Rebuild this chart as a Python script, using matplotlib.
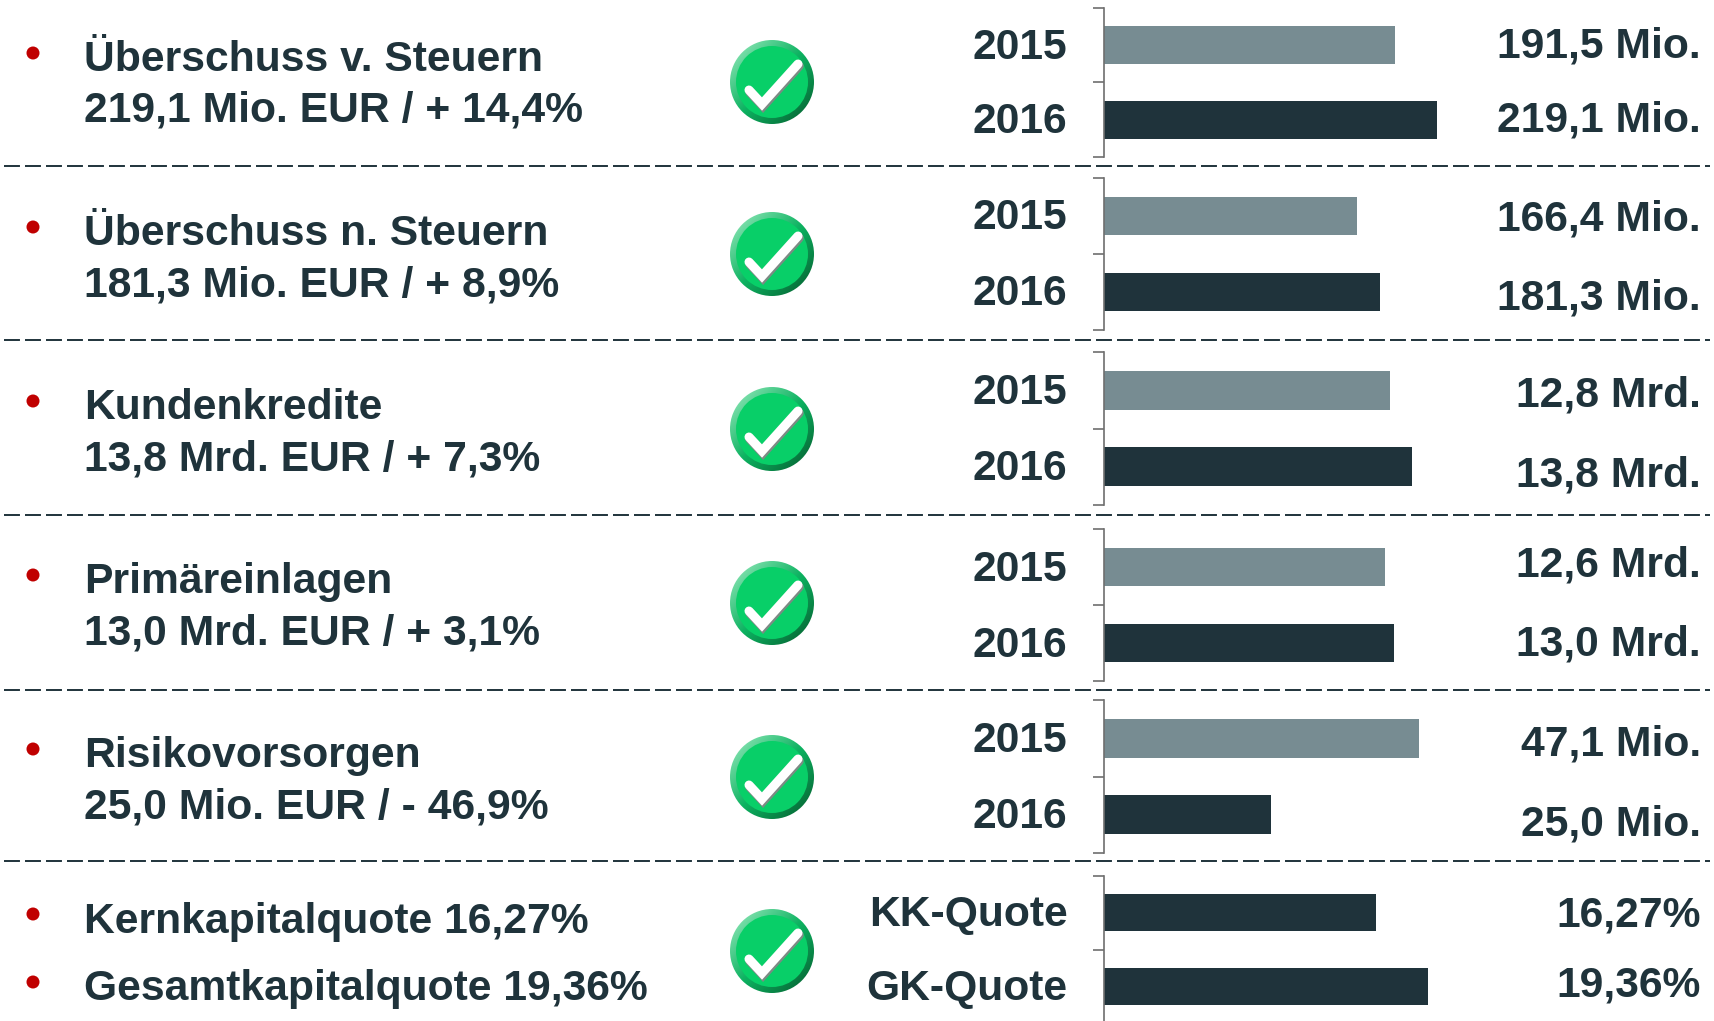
import numpy as np
import matplotlib
matplotlib.use('Agg')
import matplotlib.pyplot as plt
from matplotlib.patches import Circle
from matplotlib.transforms import ScaledTranslation

# chart data
titles = ['Überschuss v. Steuern', 'Überschuss n. Steuern', 'Kundenkredite', 'Primäreinlagen', 'Risikovorsorgen']
subtitles = ['219,1 Mio. EUR / + 14,4%', '181,3 Mio. EUR / + 8,9%', '13,8 Mrd. EUR / + 7,3%',
             '13,0 Mrd. EUR / + 3,1%', '25,0 Mio. EUR / - 46,9%']
quotes = ['Kernkapitalquote 16,27%', 'Gesamtkapitalquote 19,36%']
years = ['2015', '2016']
quote_names = ['KK-Quote', 'GK-Quote']
values_2015 = [191.5, 166.4, 12.8, 12.6, 47.1]
values_2016 = [219.1, 181.3, 13.8, 13.0, 25.0]
values_quote = [16.27, 19.36]
labels_2015 = ['191,5 Mio.', '166,4 Mio.', '12,8 Mrd.', '12,6 Mrd.', '47,1 Mio.']
labels_2016 = ['219,1 Mio.', '181,3 Mio.', '13,8 Mrd.', '13,0 Mrd.', '25,0 Mio.']
labels_quote = ['16,27%', '19,36%']

# layout in pixels of the 1715x1021 picture
W, H = 1715, 1021
DARK = '#1f333b'
GREY = '#778c92'
FS = 30.7
px_per_unit = [1.52, 1.52, 22.35, 22.3, 6.69, 16.73]
panel_top = [8, 178, 352, 529, 700, 876]
panel_h = [149, 152, 153, 152, 153, 147]
dash_y = [166, 340, 515, 690, 861]
icon_y = [82, 254, 429, 603, 777, 951]
title_base = [71, 245, 419, 593, 767]
sub_base = [122, 296, 470, 644, 818]
quote_base = [933, 1000]
bullet_y = [53, 227, 401, 575, 749, 914, 982]
val15_base = [57, 230, 406, 576, 755]
val16_base = [132, 309, 486, 655, 835]
quote_val_base = [926, 996]

fig = plt.figure(figsize=(W / 100, H / 100), dpi=100)
plt.rcParams['font.family'] = ['Liberation Sans', 'DejaVu Sans']
plt.rcParams['font.weight'] = 'bold'

bg = fig.add_axes([0, 0, 1, 1])
bg.set_xlim(0, W)
bg.set_ylim(H, 0)
bg.axis('off')


def draw_icon(ax, cy, cx=772):
    """Green check mark button"""
    n = 64
    xx, yy = np.meshgrid(np.linspace(0, 1, n), np.linspace(0, 1, n))
    t = (xx + yy) / 2
    light = np.array([0.62, 0.93, 0.76])
    mid = np.array([0.05, 0.70, 0.38])
    dark = np.array([0.02, 0.36, 0.18])
    rgb = np.where(t[..., None] < 0.5,
                   light + (mid - light) * (t[..., None] * 2),
                   mid + (dark - mid) * (t[..., None] * 2 - 1))
    im = ax.imshow(rgb, extent=(cx - 42, cx + 42, cy + 42, cy - 42), aspect='auto', zorder=2)
    im.set_clip_path(Circle((cx, cy), 42, transform=ax.transData))
    ax.add_patch(Circle((cx, cy), 36, color='#08cf68', lw=0, zorder=3))
    xs = np.array([-23, -10, 26]) + cx
    ys = np.array([8, 22, -18]) + cy
    ax.plot(xs + 1, ys + 2, color='#7d8a84', lw=6.8, solid_capstyle='round', solid_joinstyle='miter', zorder=4)
    ax.plot(xs, ys, color='white', lw=6.5, solid_capstyle='round', solid_joinstyle='miter', zorder=5)


for y in dash_y:
    bg.plot([4, 1710], [y, y], color=DARK, lw=1.4, dashes=(8.2, 2.6))
for y in icon_y:
    draw_icon(bg, y)
bg.set_xlim(0, W)
bg.set_ylim(H, 0)
for y in bullet_y:
    bg.add_patch(Circle((33, y), 6.5, color='#c00000', lw=0))

for i in range(5):
    bg.text(84, title_base[i], titles[i], fontsize=FS, color=DARK, va='baseline')
    bg.text(84, sub_base[i], subtitles[i], fontsize=FS, color=DARK, va='baseline')
    bg.text(1701, val15_base[i], labels_2015[i], fontsize=FS, color=DARK, ha='right', va='baseline')
    bg.text(1701, val16_base[i], labels_2016[i], fontsize=FS, color=DARK, ha='right', va='baseline')
for i in range(2):
    bg.text(84, quote_base[i], quotes[i], fontsize=FS, color=DARK, va='baseline')
    bg.text(1701, quote_val_base[i], labels_quote[i], fontsize=FS, color=DARK, ha='right', va='baseline')


def panel(top, height, scale, vals, colors, names):
    """One small bar chart, its y axis is the bracket on the left"""
    width = 350
    ax = fig.add_axes([1104 / W, 1 - (top + height) / H, width / W, height / H])
    ax.patch.set_alpha(0)
    ax.barh([0, 1], vals, height=0.51, color=colors)
    ax.set_xlim(0, width / scale)
    ax.set_ylim(1.5, -0.5)
    for s in ['top', 'right', 'bottom']:
        ax.spines[s].set_visible(False)
    ax.spines['left'].set_color('#6e6e6e')
    ax.spines['left'].set_linewidth(1.2)
    ax.set_xticks([])
    ax.set_yticks([0, 1], names, fontsize=FS, color=DARK)
    ax.tick_params(axis='y', which='major', length=0, pad=26.3)
    # year labels sit a little above the bar centres
    shift = ScaledTranslation(0, 2 / 100, fig.dpi_scale_trans)
    for lab in ax.get_yticklabels():
        lab.set_transform(lab.get_transform() + shift)
    ax.set_yticks([-0.5, 0.5, 1.5], minor=True)
    ax.tick_params(axis='y', which='minor', length=8, width=1.2, color='#6e6e6e')
    return ax


for i in range(5):
    panel(panel_top[i], panel_h[i], px_per_unit[i], [values_2015[i], values_2016[i]], [GREY, DARK], years)
panel(panel_top[5], panel_h[5], px_per_unit[5], values_quote, [DARK, DARK], quote_names)

fig.savefig('out.png', dpi=100)
